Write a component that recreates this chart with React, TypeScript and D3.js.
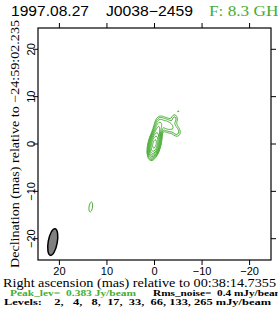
import React, { useMemo } from "react";
import * as d3 from "d3";

const W = 278;
const H = 309;

const titleDate = "1997.08.27";
const titleSource = "J0038\u22122459";
const titleFreq = "F: 8.3 GHz";
const xLabel = "Right ascension (mas) relative to 00:38:14.7355";
const yLabel = "Declination (mas) relative to \u221224:59:02.235";
const peakLev = 0.383; // Jy/beam
const rmsNoise = 0.4; // mJy/beam
const levels = [2, 4, 8, 17, 33, 66, 133, 265]; // mJy/beam
const axisTicks = [20, 10, 0, -10, -20];

// gaussian model components
// position (mas), peak (mJy/beam), FWHM major/minor (mas), PA (deg)
const compRa = [0, -0.7, -2.6, -4.2, -4.6, -5.0, 13.4];
const compDec = [0, 2.9, 4.0, 5.3, 2.6, 6.9, -13.3];
const compPeak = [370, 40, 14, 5, 5, 2.4, 2.6];
const compMaj = [2.6, 2.6, 2.8, 1.5, 1.6, 0.6, 3.5];
const compMin = [1.0, 1.0, 1.7, 1.0, 1.2, 0.5, 1.2];
const compPa = [-13, -13, 60, 0, 20, 0, -8];

// restoring beam
const beamRa = 21.4;
const beamDec = -20.7;
const beamMaj = 5.7;
const beamMin = 1.9;
const beamPa = -10;

const GREEN = "#45ad32";
const half = 24.5;

export default function App() {
  const x = d3.scaleLinear().domain([half, -half]).range([38, 271]);
  const y = d3.scaleLinear().domain([-half, half]).range([260, 28]);

  const paths = useMemo(() => {
    const step = 0.2;
    const n = Math.round((2 * half) / step) + 1;
    const values = new Array(n * n);
    const k = 4 * Math.LN2;
    for (let j = 0; j < n; j++) {
      const dec = half - j * step;
      for (let i = 0; i < n; i++) {
        const ra = half - i * step;
        let v = 0;
        for (let c = 0; c < compRa.length; c++) {
          const pa = (compPa[c] * Math.PI) / 180;
          const dx = ra - compRa[c];
          const dy = dec - compDec[c];
          const u = dx * Math.sin(pa) + dy * Math.cos(pa);
          const w = dx * Math.cos(pa) - dy * Math.sin(pa);
          v += compPeak[c] * Math.exp(-k * ((u * u) / (compMaj[c] ** 2) + (w * w) / (compMin[c] ** 2)));
        }
        values[j * n + i] = v;
      }
    }
    const contours = d3.contours().size([n, n]).thresholds(levels)(values);
    const proj = d3.geoTransform({
      point(px: number, py: number) {
        const ra = half - (px - 0.5) * step;
        const dec = half - (py - 0.5) * step;
        this.stream.point(x(ra), y(dec));
      },
    });
    const path = d3.geoPath(proj);
    return contours.map((c) => path(c) || "");
  }, []);

  const fmt = d3.format("d");
  const levelText =
    "Levels: " + levels.map((l) => String(l).padStart(4, " ")).join(",") + " mJy/beam";

  const pxPerMas = Math.abs(x(1) - x(0));
  const sans = "'Liberation Sans', Arial, sans-serif";
  const serif = "'Liberation Serif', 'DejaVu Serif', serif";

  return (
    <svg
      width={W}
      height={H}
      style={{ position: "absolute", left: 0, top: 0, background: "#fff" }}
    >
      {/* title */}
      <text x={11} y={16} fontFamily={sans} fontSize={14} textLength={78} lengthAdjust="spacingAndGlyphs">
        {titleDate}
      </text>
      <text x={106} y={16} fontFamily={sans} fontSize={14} textLength={87} lengthAdjust="spacingAndGlyphs">
        {titleSource}
      </text>
      <text x={209} y={16} fontFamily={serif} fontSize={14} fill={GREEN} textLength={77} lengthAdjust="spacingAndGlyphs" style={{ whiteSpace: "pre" }}>
        {titleFreq}
      </text>

      {/* contours */}
      <g fill="none" stroke={GREEN} strokeWidth={1}>
        {paths.map((d, i) => (
          <path key={i} d={d} />
        ))}
      </g>

      {/* beam */}
      <ellipse
        cx={x(beamRa)}
        cy={y(beamDec)}
        rx={(beamMin / 2) * pxPerMas}
        ry={(beamMaj / 2) * pxPerMas}
        transform={`rotate(${-beamPa} ${x(beamRa)} ${y(beamDec)})`}
        fill="#808080"
        stroke="#000"
        strokeWidth={1.5}
      />

      {/* frame */}
      <rect x={38} y={28} width={233} height={232} fill="none" stroke="#000" strokeWidth={1.2} />
      <g stroke="#000" strokeWidth={1}>
        {axisTicks.map((t) => (
          <g key={t}>
            <line x1={x(t)} x2={x(t)} y1={260} y2={265} />
            <line x1={x(t)} x2={x(t)} y1={28} y2={23} />
            <line x1={38} x2={33} y1={y(t)} y2={y(t)} />
            <line x1={271} x2={276} y1={y(t)} y2={y(t)} />
          </g>
        ))}
      </g>

      {/* tick labels */}
      <g fontFamily={sans} fontSize={11} textAnchor="middle">
        {axisTicks.map((t) => (
          <text key={"x" + t} x={x(t)} y={275}>
            {fmt(t)}
          </text>
        ))}
        {axisTicks.map((t) => (
          <text key={"y" + t} transform={`translate(35,${y(t)}) rotate(-90)`}>
            {fmt(t)}
          </text>
        ))}
      </g>

      {/* axis labels */}
      <text
        transform="translate(19,144) rotate(-90)"
        textAnchor="middle"
        fontFamily={serif}
        fontSize={12}
        textLength={248}
        lengthAdjust="spacingAndGlyphs"
      >
        {yLabel}
      </text>
      <text x={3} y={287} fontFamily={serif} fontSize={11.5} textLength={273} lengthAdjust="spacingAndGlyphs">
        {xLabel}
      </text>

      {/* notes */}
      <text x={10} y={296} fontFamily={serif} fontSize={8.5} fontWeight="bold" fill={GREEN} textLength={126} lengthAdjust="spacingAndGlyphs" style={{ whiteSpace: "pre" }}>
        {`Peak_lev=  ${peakLev.toFixed(3)} Jy/beam`}
      </text>
      <text x={153} y={296} fontFamily={serif} fontSize={8.5} fontWeight="bold" textLength={131} lengthAdjust="spacingAndGlyphs" style={{ whiteSpace: "pre" }}>
        {`Rms_noise=  ${rmsNoise} mJy/beam`}
      </text>
      <text x={4} y={305} fontFamily={serif} fontSize={8.5} fontWeight="bold" textLength={267} lengthAdjust="spacingAndGlyphs" style={{ whiteSpace: "pre" }}>
        {levelText}
      </text>
    </svg>
  );
}
